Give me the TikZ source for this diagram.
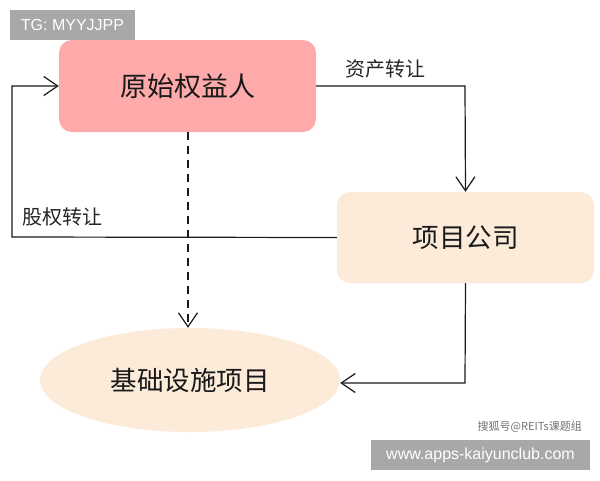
\documentclass[tikz,border=0pt]{standalone}
\usepackage{fontspec}
\setmainfont{Liberation Sans}
\newfontfamily\cjk{Noto Sans CJK SC}
\usetikzlibrary{arrows.meta,shapes.geometric}
\definecolor{pinkfill}{HTML}{FFAAAA}
\definecolor{peachfill}{HTML}{FCEBD9}
\definecolor{graybox}{HTML}{A8A8A8}
\definecolor{linec}{HTML}{1A1A1A}
\tikzset{
  x=1pt,y=-1pt,
  boxA/.style={fill=pinkfill,rounded corners=13pt,minimum width=257pt,minimum height=92pt,inner sep=0pt,font=\cjk\fontsize{27}{31}\selectfont,text=black!90},
  boxB/.style={fill=peachfill,rounded corners=13pt,minimum width=257pt,minimum height=91pt,inner sep=0pt,font=\cjk\fontsize{26.5}{30}\selectfont,text=black!90},
  ell/.style={ellipse,fill=peachfill,minimum width=300pt,minimum height=104pt,inner sep=0pt,font=\cjk\fontsize{26.5}{30}\selectfont,text=black!90},
  conn/.style={draw=linec,line width=1.2pt,-{Straight Barb[length=14pt,width=19pt,line width=1.2pt]}},
  lbl/.style={font=\cjk\fontsize{20}{23}\selectfont,text=black!85,inner sep=0pt},
  tag/.style={fill=graybox,text=white,inner sep=0pt,font=\fontsize{16}{19}\selectfont},
}
\begin{document}
\begin{tikzpicture}
\useasboundingbox (0,0) rectangle (600,480);
\fill[white] (0,0) rectangle (600,480);
\node[tag,minimum width=125pt,minimum height=30pt] (tg) at (72.5,25) {TG: MYYJJPP};
\node[boxA] (a) at (187.5,86) {原始权益人};
\node[boxB] (b) at (465.5,237.5) {项目公司};
\node[ell] (c) at (190,380) {基础设施项目};
\coordinate (p1) at (465,86);
\coordinate (p2) at (12,237);
\coordinate (p3) at (12,86);
\coordinate (p4) at (465,383);
\draw[conn] (a.east) -- (p1) -- (b.north);
\draw[conn] (b.west) -- (p2) -- (p3) -- (a.west);
\draw[conn,dash pattern=on 8pt off 6pt] (a.south -| 188,0) -- (c.north -| 188,0);
\draw[conn] (b.south) -- (p4) -- (c.east |- p4);
\node[lbl,anchor=west] (l1) at (345,69) {资产转让};
\node[lbl,anchor=west] (l2) at (22,217) {股权转让};
\node[font=\cjk\fontsize{11}{13}\selectfont,text=black!55,anchor=east,inner sep=0pt] (wm) at (582,427) {搜狐号@REITs课题组};
\node[tag,minimum width=219pt,minimum height=30pt] (url) at (480.5,455) {www.apps-kaiyunclub.com};
\end{tikzpicture}
\end{document}
